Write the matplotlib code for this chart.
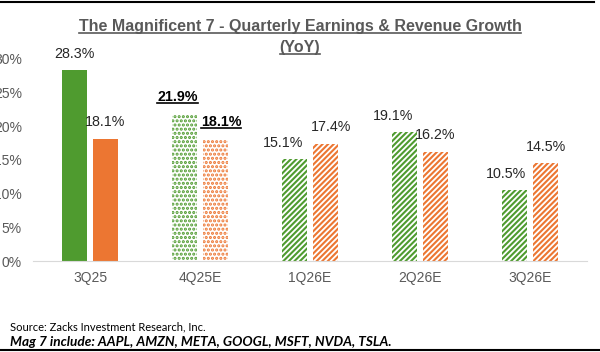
import matplotlib
matplotlib.use('Agg')
import matplotlib.pyplot as plt
from matplotlib.lines import Line2D
import numpy as np

# data
quarters = ['3Q25', '4Q25E', '1Q26E', '2Q26E', '3Q26E']
earnings = [28.3, 21.9, 15.1, 19.1, 10.5]
revenue = [18.1, 18.1, 17.4, 16.2, 14.5]
yticks = [0, 5, 10, 15, 20, 25, 30]

green = '#4f9b2f'
orange = '#ec7632'
plt.rcParams['font.family'] = ['Liberation Sans', 'DejaVu Sans']
plt.rcParams['hatch.linewidth'] = 1.5

fig = plt.figure(figsize=(6, 3.52), dpi=100)
ax = fig.add_axes([0.055, 0.2585, 0.923, 0.574])

x = np.arange(len(quarters))
w = 0.227
off = 0.14
# hatch style per quarter: solid, dotted, striped...
hatches = [None, '....', '//////', '//////', '//////']
# small sideways nudge of the value labels (points), like excel does
dx_earn = [0, -5, -8, -8, -6]
dx_rev = [0, 4, 4, 0, 1]

for i in range(len(quarters)):
    for vals, col, sgn in [(earnings, green, -1), (revenue, orange, 1)]:
        if hatches[i] is None:
            ax.bar(x[i] + sgn * off, vals[i], w, color=col, linewidth=0)
        else:
            ax.bar(x[i] + sgn * off, vals[i], w, facecolor='white', edgecolor=col,
                   hatch=hatches[i], linewidth=0)

# value labels
labels = []
for i in range(len(quarters)):
    bold = (i == 1)
    for vals, sgn, dx in [(earnings, -1, dx_earn), (revenue, 1, dx_rev)]:
        t = ax.annotate('%.1f%%' % vals[i], (x[i] + sgn * off, vals[i]),
                        xytext=(dx[i], 7), textcoords='offset points',
                        ha='center', va='bottom', fontsize=10.3,
                        fontweight='bold' if bold else 'normal',
                        color='black' if bold else '#262626', annotation_clip=False)
        if bold:
            labels.append(t)

ax.set_xlim(-0.52, 4.52)
ax.set_ylim(0, 30)
ax.set_yticks(yticks)
ax.set_yticklabels(['%d%%' % v for v in yticks])
ax.set_xticks(x)
ax.set_xticklabels(quarters)
ax.tick_params(length=0, labelsize=10, labelcolor='#595959')
ax.tick_params(axis='y', pad=8)
ax.tick_params(axis='x', pad=7)
for s in ['top', 'right', 'left']:
    ax.spines[s].set_visible(False)
ax.spines['bottom'].set_color('#d9d9d9')

t1 = fig.text(0.5, 0.925, 'The Magnificent 7 - Quarterly Earnings & Revenue Growth',
              ha='center', va='center', fontsize=11.5, fontweight='bold', color='#595959')
t2 = fig.text(0.5, 0.864, '(YoY)', ha='center', va='center', fontsize=11.5,
              fontweight='bold', color='#595959')

fig.text(0.017, 0.071, 'Source: Zacks Investment Research, Inc.', fontsize=8,
         family='Lato', color='black', va='center')
fig.text(0.017, 0.029, 'Mag 7 include: AAPL, AMZN, META, GOOGL, MSFT, NVDA, TSLA.',
         fontsize=9.8, family='Lato', fontweight='bold', style='italic',
         color='black', va='center')

# frame lines top and bottom
fig.add_artist(Line2D([0, 0.99], [0.993, 0.993], color='black', lw=1.5))
fig.add_artist(Line2D([0, 1], [0.006, 0.006], color='black', lw=1.5))

# underline title and bold labels
fig.canvas.draw()
r = fig.canvas.get_renderer()
inv = fig.transFigure.inverted()
for t, col in [(t1, '#595959'), (t2, '#595959')] + [(l, 'black') for l in labels]:
    bb = t.get_window_extent(r)
    (x0, y0), (x1, _) = inv.transform([[bb.x0, bb.y0 + 1], [bb.x1, bb.y1]])
    fig.add_artist(Line2D([x0, x1], [y0, y0], color=col, lw=1.2))

fig.savefig('out.png', dpi=100)
